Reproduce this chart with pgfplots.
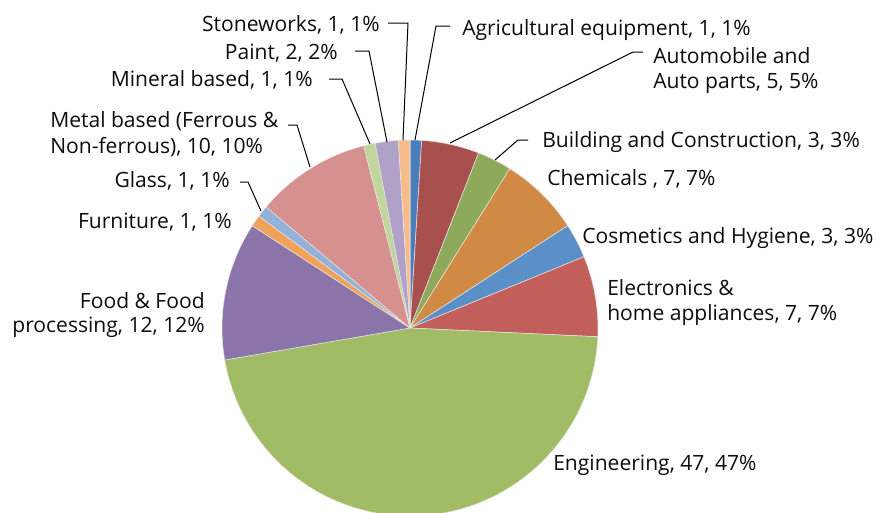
\documentclass[border=0pt]{standalone}
\usepackage{pgfplots}
\pgfplotsset{compat=1.18}
\usepackage{pgfplotstable}
\usepackage{fontspec}
\setmainfont{Open Sans}
\definecolor{cAgri}{HTML}{4A7EBB}
\definecolor{cAuto}{HTML}{A8504D}
\definecolor{cBuild}{HTML}{8FA95A}
\definecolor{cChem}{HTML}{D18A43}
\definecolor{cCosm}{HTML}{5A8FC7}
\definecolor{cElec}{HTML}{C35F5B}
\definecolor{cEng}{HTML}{A2BC66}
\definecolor{cFood}{HTML}{8B74AA}
\definecolor{cFurn}{HTML}{F0A15A}
\definecolor{cGlass}{HTML}{94B1D9}
\definecolor{cMetal}{HTML}{D6908E}
\definecolor{cMin}{HTML}{C1D59C}
\definecolor{cPaint}{HTML}{B0A1C8}
\definecolor{cStone}{HTML}{F8BC8B}
\tikzset{lab/.style={font=\fontsize{15.8}{18}\selectfont, text=black!95, inner sep=0pt}}
\pgfplotstableread{
value color
1 cAgri
5 cAuto
3 cBuild
7 cChem
3 cCosm
7 cElec
47 cEng
12 cFood
1 cFurn
1 cGlass
10 cMetal
1 cMin
2 cPaint
1 cStone
}\piedata
\begin{document}
\begin{tikzpicture}
\useasboundingbox (0,0) rectangle (659.25pt,-384.75pt);
\clip (0,0) rectangle (659.25pt,-384.75pt);
\begin{axis}[at={(0,0)}, anchor=north west, x=0.75pt, y=0.75pt,
  xmin=0, xmax=879, ymin=0, ymax=513, y dir=reverse, hide axis, clip=false]
\def\cx{410}\def\cy{328}\def\R{188}
\def\cum{0}
\pgfplotsforeachungrouped \i in {0,...,13}{%
  \pgfplotstablegetelem{\i}{value}\of\piedata \let\val\pgfplotsretval
  \pgfplotstablegetelem{\i}{color}\of\piedata \let\col\pgfplotsretval
  \pgfmathsetmacro{\sa}{90-\cum/101*360}%
  \pgfmathsetmacro{\sb}{90-(\cum+\val)/101*360}%
  \pgfmathsetmacro{\px}{\cx+\R*cos(\sa)}%
  \pgfmathsetmacro{\py}{\cy-\R*sin(\sa)}%
  \edef\temp{\noexpand\fill[fill=\col, draw=white!80!gray, line width=0.4pt] (axis cs:\cx,\cy) -- (axis cs:\px,\py) arc[start angle=\sa, end angle=\sb, radius=141pt] -- cycle;}%
  \temp
  \pgfmathsetmacro{\cum}{\cum+\val}%
}
% leader lines
\draw[black, line width=0.75pt] (axis cs:388,23) -- (axis cs:408,23) -- (axis cs:403,140);
\draw[black, line width=0.75pt] (axis cs:355,51) -- (axis cs:369,51) -- (axis cs:387,142);
\draw[black, line width=0.75pt] (axis cs:329,79) -- (axis cs:342,79) -- (axis cs:370,144);
\draw[black, line width=0.75pt] (axis cs:288,125) -- (axis cs:297,125) -- (axis cs:310,167);
\draw[black, line width=0.75pt] (axis cs:240,182) -- (axis cs:248,182) -- (axis cs:261,211);
\draw[black, line width=0.75pt] (axis cs:450,26) -- (axis cs:436,26) -- (axis cs:415,140);
\draw[black, line width=0.75pt] (axis cs:643,52) -- (axis cs:633,52) -- (axis cs:450,143);
\draw[black, line width=0.75pt] (axis cs:528,140) -- (axis cs:518,140) -- (axis cs:495,160);
% labels
\node[lab, anchor=base east] at (axis cs:380,31) {Stoneworks, 1, 1\%};
\node[lab, anchor=base east] at (axis cs:338,59) {Paint, 2, 2\%};
\node[lab, anchor=base east] at (axis cs:313,86) {Mineral based, 1, 1\%};
\node[lab, anchor=base west] at (axis cs:50,127) {Metal based (Ferrous \&};
\node[lab, anchor=base west] at (axis cs:50,153) {Non-ferrous), 10, 10\%};
\node[lab, anchor=base east] at (axis cs:230,187) {Glass, 1, 1\%};
\node[lab, anchor=base east] at (axis cs:232,228) {Furniture, 1, 1\%};
\node[lab, anchor=base east] at (axis cs:205,308) {Food \& Food};
\node[lab, anchor=base east] at (axis cs:205,332) {processing, 12, 12\%};
\node[lab, anchor=base west] at (axis cs:462,35) {Agricultural equipment, 1, 1\%};
\node[lab, anchor=base west] at (axis cs:653,63) {Automobile and};
\node[lab, anchor=base west] at (axis cs:653,88) {Auto parts, 5, 5\%};
\node[lab, anchor=base west] at (axis cs:542,147) {Building and Construction, 3, 3\%};
\node[lab, anchor=base west] at (axis cs:547,185) {Chemicals , 7, 7\%};
\node[lab, anchor=base west] at (axis cs:582,243) {Cosmetics and Hygiene, 3, 3\%};
\node[lab, anchor=base west] at (axis cs:607,295) {Electronics \&};
\node[lab, anchor=base west] at (axis cs:607,320) {home appliances, 7, 7\%};
\node[lab, anchor=base west] at (axis cs:553,470) {Engineering, 47, 47\%};
\end{axis}
\end{tikzpicture}
\end{document}
